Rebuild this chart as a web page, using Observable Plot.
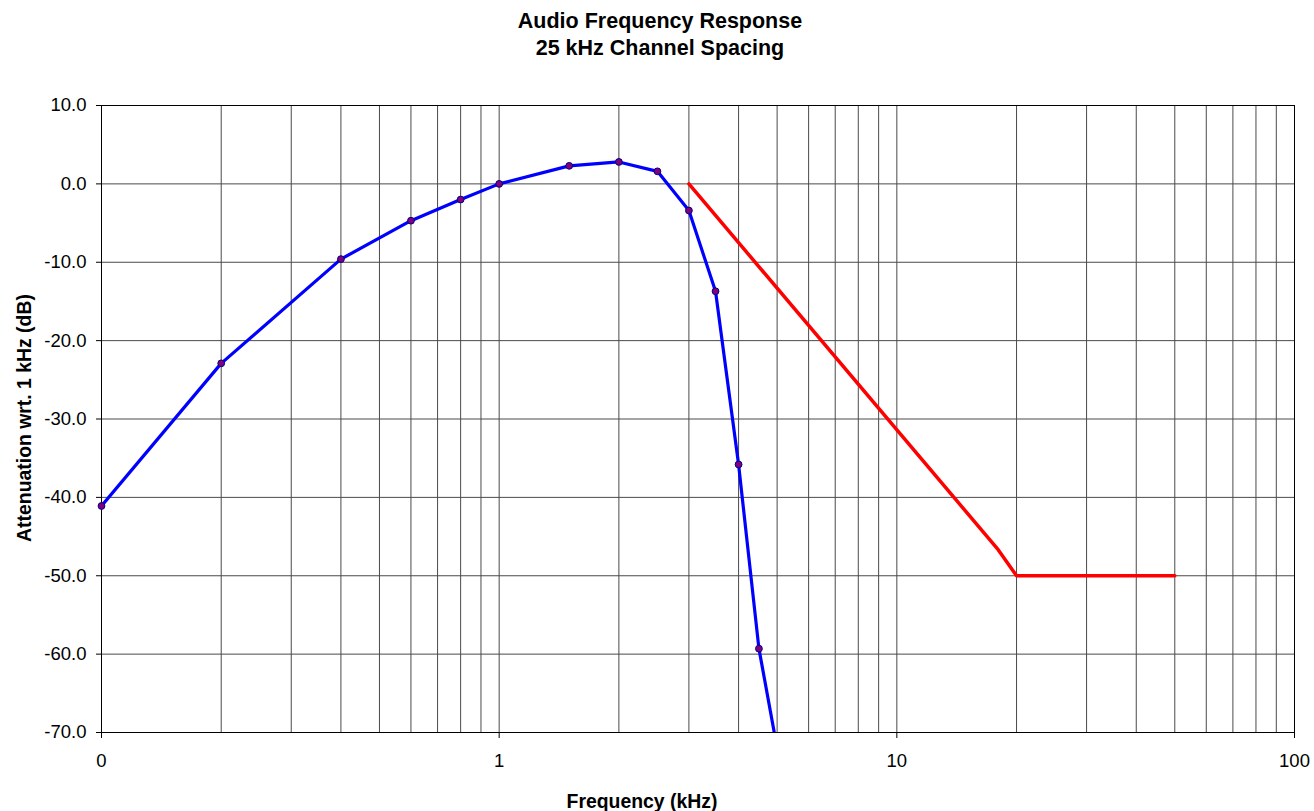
<!DOCTYPE html>
<html>
<head>
<meta charset="utf-8">
<script src="https://cdn.jsdelivr.net/npm/d3@7"></script>
<script src="https://cdn.jsdelivr.net/npm/@observablehq/plot@0.6"></script>
<style>
  html, body { margin: 0; padding: 0; background: #fff; }
  #wrap { position: relative; width: 1314px; height: 811px; font-family: "Liberation Sans", Arial, sans-serif; color: #000; }
  #title { position: absolute; left: 0; top: 7.5px; width: 1320px; text-align: center; font-weight: bold; font-size: 21.5px; line-height: 27px; }
  #xtitle { position: absolute; left: 0; top: 789px; width: 1284px; text-align: center; font-weight: bold; font-size: 19.4px; line-height: 24px; }
  #ytitle { position: absolute; left: 24px; top: 418px; transform: translate(-50%, -50%) rotate(-90deg); white-space: nowrap; font-weight: bold; font-size: 19.4px; line-height: 24px; }
  #chart { position: absolute; left: 0; top: 0; }
</style>
</head>
<body>
<div id="wrap">
  <div id="chart"></div>
  <div id="title">Audio Frequency Response<br>25 kHz Channel Spacing</div>
  <div id="xtitle">Frequency (kHz)</div>
  <div id="ytitle">Attenuation wrt. 1 kHz (dB)</div>
</div>
<script>
// Measured response (blue)
const responseFreq = [0.1, 0.2, 0.4, 0.6, 0.8, 1, 1.5, 2, 2.5, 3, 3.5, 4, 4.5, 5];
const responseDb   = [-41.1, -22.9, -9.6, -4.7, -2.0, 0.0, 2.3, 2.8, 1.6, -3.4, -13.7, -35.8, -59.3, -72.0];

// Specification limit (red)
const limitFreq = [3, 18, 20, 50];
const limitDb   = [0, -46.7, -50, -50];

// Axis ticks and labels
const xTicks = [0.1, 1, 10, 100];
const xTickLabels = ["0", "1", "10", "100"];
const yTicks = [-70, -60, -50, -40, -30, -20, -10, 0, 10];
const gridMultipliers = [1, 2, 3, 4, 5, 6, 7, 8, 9];
const gridDecades = [0.1, 1, 10];

const response = responseFreq.map((f, i) => ({f, db: responseDb[i]}));
const limit = limitFreq.map((f, i) => ({f, db: limitDb[i]}));
const gridX = gridDecades.flatMap(d => gridMultipliers.map(m => +(d * m).toPrecision(3))).concat([100]);

const chart = Plot.plot({
  width: 1314,
  height: 811,
  marginLeft: 101,
  marginRight: 20,
  marginTop: 105,
  marginBottom: 79,
  style: {fontFamily: "'Liberation Sans', Arial, sans-serif", fontSize: "18.5px", color: "#000", background: "#fff"},
  x: {type: "log", domain: [0.1, 100]},
  y: {domain: [-70, 10]},
  marks: [
    Plot.ruleX(gridX, {stroke: "#4a4a4a", strokeWidth: 1}),
    Plot.ruleY(yTicks, {stroke: "#4a4a4a", strokeWidth: 1}),
    Plot.frame({stroke: "#000", strokeWidth: 1}),
    Plot.axisX({ticks: xTicks, tickFormat: d => xTickLabels[xTicks.indexOf(d)], tickSize: 6, tickPadding: 15, label: null}),
    Plot.axisY({ticks: yTicks, tickFormat: d => d.toFixed(1), tickSize: 5, tickPadding: 10, label: null}),
    Plot.line(limit, {x: "f", y: "db", stroke: "#ff0000", strokeWidth: 3.5, clip: true}),
    Plot.line(response, {x: "f", y: "db", stroke: "#0000ff", strokeWidth: 3.2, clip: true}),
    Plot.dot(response, {filter: d => d.db >= -70 && d.db <= 10, x: "f", y: "db", r: 3.4, fill: "#800080", stroke: "#000080", strokeWidth: 1})
  ]
});
document.getElementById("chart").appendChild(chart);
</script>
</body>
</html>
